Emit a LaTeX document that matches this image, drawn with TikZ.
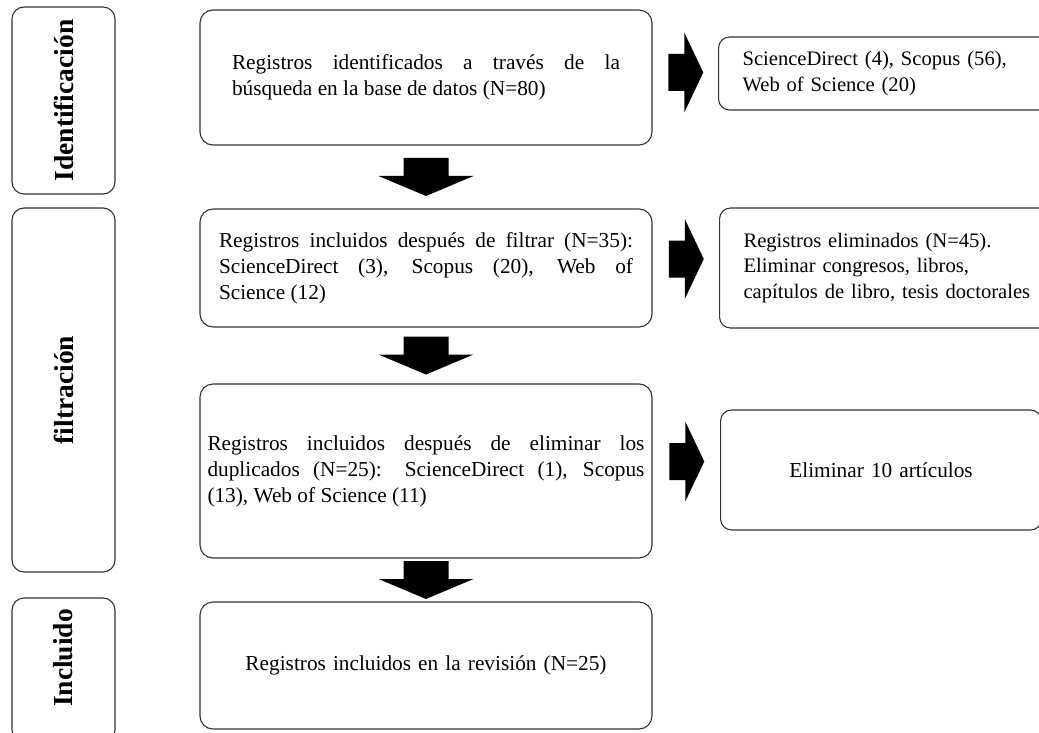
\documentclass[tikz,border=0pt]{standalone}
\usepackage{fontspec}
\setmainfont{Liberation Serif}
\usetikzlibrary{positioning,calc}
\tolerance=10000
\hyphenpenalty=10000

\begin{document}
\begin{tikzpicture}[x=1pt,y=-1pt,
  fase/.style={draw=black!80, line width=1.1pt, rounded corners=12pt, rotate=90, minimum height=103pt, inner sep=0pt, font=\fontsize{27.5}{30}\selectfont\bfseries},
  paso/.style={draw=black!80, line width=1.1pt, rounded corners=13pt, minimum width=452pt, inner sep=0pt, align=justify, font=\fontsize{21.3}{26}\selectfont},
  nota/.style={draw=black!80, line width=1.1pt, rounded corners=11pt, anchor=west, inner xsep=24pt, inner ysep=0pt, text width=300pt, align=left, font=\fontsize{20.6}{25.5}\selectfont}]
  \useasboundingbox (0,0) rectangle (1039,733);
  \clip (0,0) rectangle (1039,733);

  % Fases
  \node[fase, minimum width=187pt] (ident) at (63.5,100.5) {Identificación};
  \node[fase, minimum width=364pt] (filtr) at (63.5,390) {filtración};
  \node[fase, minimum width=144pt] (incl) at (63.5,670) {\hspace*{24pt}Incluido};

  % Pasos
  \node[paso, minimum height=135pt, text width=388pt] (reg1) at (426,77.5) {\rightskip=20pt Registros identificados a través de la\linebreak búsqueda en la base de datos (N=80)};
  \node[paso, minimum height=118pt, text width=414pt] (reg2) at (426,268) {\rightskip=10pt Registros incluidos después de filtrar (N=35): ScienceDirect (3), Scopus (20), Web of\linebreak Science (12)};
  \node[paso, minimum height=174pt, text width=437pt] (reg3) at (426,471) {\leftskip=12pt Registros incluidos después de eliminar los\linebreak duplicados (N=25): ScienceDirect (1), Scopus\linebreak (13), Web of Science (11)};
  \node[paso, minimum height=127pt, text width=400pt, align=center] (reg4) at (426,665.5) {Registros incluidos en la revisión (N=25)};

  % Notas
  \node[nota, minimum height=73pt] (nota1) at (718,73.5) {ScienceDirect (4), Scopus (56),\\ Web of Science (20)};
  \node[nota, minimum height=120pt] (nota2) at (719,268) {Registros eliminados (N=45).\\ Eliminar congresos, libros,\\ capítulos de libro, tesis doctorales};
  \node[nota, minimum height=120pt, text width=273pt, align=center, font=\fontsize{21.3}{26}\selectfont] (nota3) at (720,470) {Eliminar 10 artículos};

  % Flechas de bloque
  \foreach \a/\b in {reg1/reg2, reg2/reg3, reg3/reg4}
    \fill[black] ($(\a.south)!0.5!(\b.north)$) ++(-22.5,-19) -- ++(45,0) -- ++(0,18) -- ++(25,0) -- ++(-47.5,20) -- ++(-47.5,-20) -- ++(25,0) -- cycle;
  \foreach \a/\b/\d in {reg1/nota1/-3, reg2/nota2/-9, reg3/nota3/-9}
    \fill[black] ($(\a.east)!0.5!(\b.west)$) ++(-17,\d-18.5) -- ++(16,0) -- ++(0,-21.5) -- ++(19,40) -- ++(-19,40) -- ++(0,-21.5) -- ++(-16,0) -- cycle;
\end{tikzpicture}
\end{document}
